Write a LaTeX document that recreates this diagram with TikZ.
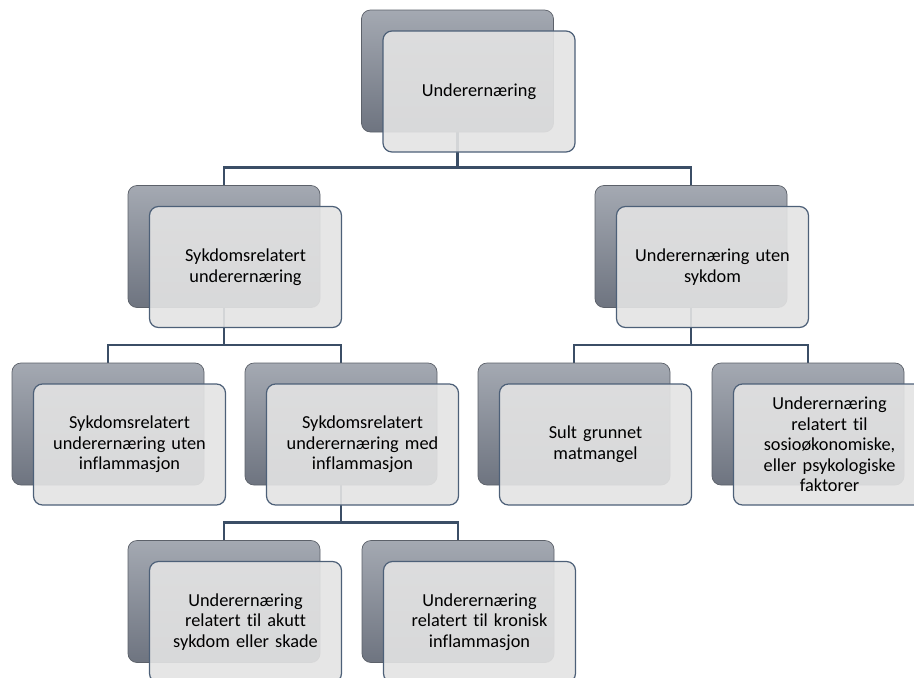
\documentclass[tikz,border=0pt]{standalone}
\usepackage{fontspec}
\setmainfont{Carlito}[Ligatures=NoCommon]
\usetikzlibrary{backgrounds}
\definecolor{linec}{HTML}{3B4E66}
\definecolor{frontb}{HTML}{4D6078}
\definecolor{frontc}{HTML}{E3E3E3}
\definecolor{backtop}{HTML}{A4A9B2}
\definecolor{backbot}{HTML}{6E7480}
\definecolor{backb}{HTML}{5C616A}
\tikzset{
  backbox/.style={rectangle, rounded corners=9pt, minimum width=192pt, minimum height=122pt,
    draw=backb, line width=0.7pt, top color=backtop, bottom color=backbot, inner sep=0pt},
  frontbox/.style={rectangle, rounded corners=9pt, minimum width=192pt, minimum height=121pt,
    draw=frontb, line width=1.2pt, fill=frontc, fill opacity=0.91, text opacity=1,
    text width=180pt, align=center, inner sep=0pt, font=\fontsize{18.3}{20.6}\selectfont},
  conn/.style={draw=linec, line width=2.6pt}
}
\newcommand{\pairbox}[5][0]{%
  \node[backbox] (#2) at (#3,#4) {};
  \node[frontbox] (#2f) at (#3+21.5,#4+20.5) {\raisebox{#1pt}{\parbox{180pt}{\centering #5}}};
}
\begin{document}
\begin{tikzpicture}[x=1pt,y=-1pt]
\clip (0,0) rectangle (914,678);
% boxes
\pairbox{n0}{457.5}{71}{Underernæring}
\pairbox{n1}{224}{246.5}{Sykdomsrelatert\\ underernæring}
\pairbox{n2}{691}{246.5}{Underernæring uten\\ sykdom}
\pairbox{n3}{108}{424}{Sykdomsrelatert\\ underernæring uten\\ inflammasjon}
\pairbox{n4}{341}{424}{Sykdomsrelatert\\ underernæring med\\ inflammasjon}
\pairbox{n5}{574}{424}{Sult grunnet\\ matmangel}
\pairbox[6]{n6}{808}{424}{Underernæring\\ relatert til\\ sosioøkonomiske,\\ eller psykologiske\\ faktorer}
\pairbox{n7}{224}{601.5}{Underernæring\\ relatert til akutt\\ sykdom eller skade}
\pairbox{n8}{458}{601.5}{Underernæring\\ relatert til kronisk\\ inflammasjon}
% connectors behind the boxes
\begin{scope}[on background layer]
\path[conn] (n0.south) -- ++(0,35) coordinate (bus1);
\path[conn] (bus1) -| (n1.north);
\path[conn] (bus1) -| (n2.north);
\path[conn] (n1.south) -- ++(0,37) coordinate (bus2a);
\path[conn] (bus2a) -| (n3.north);
\path[conn] (bus2a) -| (n4.north);
\path[conn] (n2.south) -- ++(0,37) coordinate (bus2b);
\path[conn] (bus2b) -| (n5.north);
\path[conn] (bus2b) -| (n6.north);
\path[conn] (n4.south) -- ++(0,37) coordinate (bus3);
\path[conn] (bus3) -| (n7.north);
\path[conn] (bus3) -| (n8.north);
\end{scope}
\end{tikzpicture}
\end{document}
